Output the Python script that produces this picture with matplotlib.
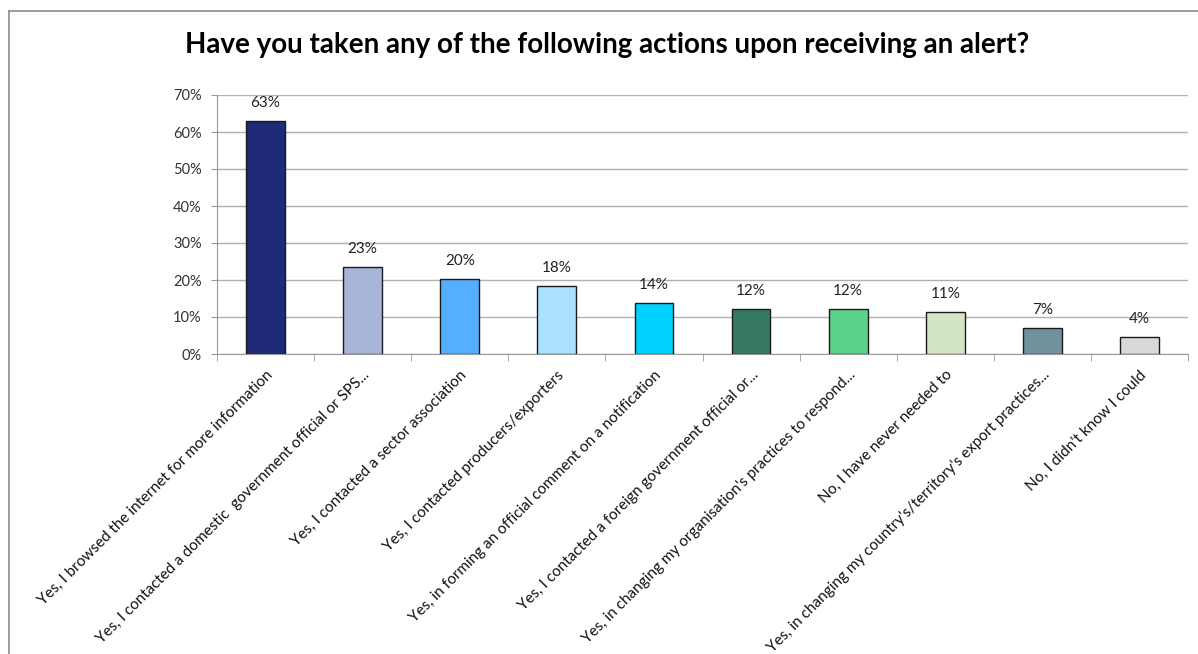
import numpy as np
import matplotlib.pyplot as plt
from matplotlib.lines import Line2D

plt.rcParams['font.family'] = ['Lato', 'DejaVu Sans']

# --- Data ---
categories = [
    "Yes, I browsed the internet for more information",
    "Yes, I contacted a domestic  government official or SPS...",
    "Yes, I contacted a sector association",
    "Yes, I contacted producers/exporters",
    "Yes, in forming an official comment on a notification",
    "Yes, I contacted a foreign government official or...",
    "Yes, in changing my organisation's practices to respond...",
    "No, I have never needed to",
    "Yes, in changing my country's/territory's export practices...",
    "No, I didn't know I could",
]
values = [63.0, 23.4, 20.2, 18.4, 13.7, 12.1, 12.1, 11.3, 7.1, 4.5]
labels = ["63%", "23%", "20%", "18%", "14%", "12%", "12%", "11%", "7%", "4%"]
colors = ["#1F2A78", "#A9B4D9", "#55AEFF", "#ABE0FF", "#00D2FF",
          "#377A62", "#5BD28C", "#D4E5C4", "#6F929E", "#D9D9D9"]

fig = plt.figure(figsize=(11.98, 6.54), dpi=100)
ax = fig.add_axes([217 / 1198, 1 - 354 / 654, (1188 - 217) / 1198, (354 - 95) / 654])

x = np.arange(len(values))
ax.bar(x, values, width=0.40, color=colors, edgecolor="#1a1a1a", linewidth=1.0, zorder=3)
for xi, v, lab in zip(x, values, labels):
    ax.text(xi, v + 3.0, lab, ha="center", va="bottom", fontsize=11, color="#222222")

ax.set_xlim(-0.5, len(values) - 0.5)
ax.set_ylim(0, 70)
ax.set_yticks(np.arange(0, 71, 10))
ax.set_yticklabels([f"{t}%" for t in range(0, 71, 10)], fontsize=10.5, color="#333333")
ax.yaxis.grid(True, color="#b0b0b0", linewidth=1.0, zorder=0)

ax.set_xticks(x)
ax.set_xticklabels(categories, rotation=45, ha="right", rotation_mode="anchor",
                   fontsize=11, color="#111111")
ax.tick_params(axis="x", length=0, pad=10)
ax.set_xticks(np.arange(-0.5, len(values), 1), minor=True)
ax.tick_params(axis="x", which="minor", length=5, color="#999999", direction="out")
ax.tick_params(axis="y", length=4, color="#999999", direction="out", pad=7)

for s in ["top", "right"]:
    ax.spines[s].set_visible(False)
ax.spines["left"].set_color("#999999")
ax.spines["bottom"].set_color("#999999")

fig.suptitle("Have you taken any of the following actions upon receiving an alert?",
             x=0.507, y=1 - 45 / 654, va="center", fontsize=20, fontweight="bold")

# outer chart frame (left and top edges visible)
fig.add_artist(Line2D([8.5 / 1198, 8.5 / 1198], [0, 1 - 10.5 / 654],
                      transform=fig.transFigure, color="#8c8c8c", linewidth=1.2))
fig.add_artist(Line2D([8.5 / 1198, 1], [1 - 10.5 / 654, 1 - 10.5 / 654],
                      transform=fig.transFigure, color="#8c8c8c", linewidth=1.2))

fig.savefig("out.png", dpi=100)
